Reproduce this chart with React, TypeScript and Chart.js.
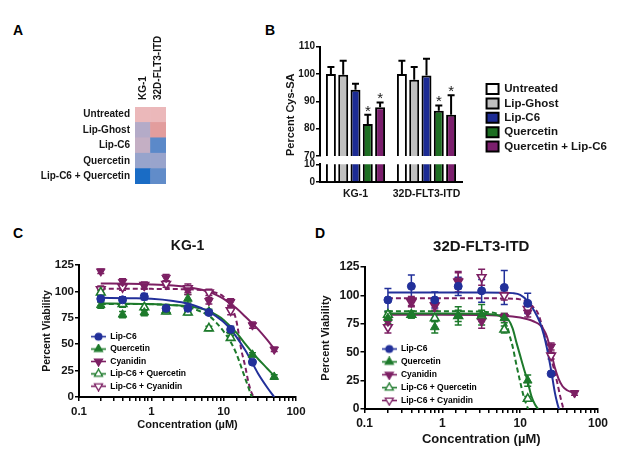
import React, { useEffect, useRef } from 'react';
import { Chart, registerables } from 'chart.js';

Chart.register(...registerables);

const FONT = "'Liberation Sans', Arial, Helvetica, sans-serif";
const INK = '#151515';

// ---------------- Panel A : heatmap ----------------
const heatRows = ['Untreated', 'Lip-Ghost', 'Lip-C6', 'Quercetin', 'Lip-C6 + Quercetin'];
const heatCols = ['KG-1', '32D-FLT3-ITD'];
const heatKG1 = [0.6, 0.0, 0.25, -0.3, -1.0];
const heat32D = [0.6, 1.0, -0.6, -0.28, -0.57];

// ---------------- Panel B : Cys-SA bars ----------------
const cysGroups = ['KG-1', '32D-FLT3-ITD'];
const cysNames = ['Untreated', 'Lip-Ghost', 'Lip-C6', 'Quercetin', 'Quercetin + Lip-C6'];
const cysUntreated = [100, 100];
const cysLipGhost = [99.7, 97.9];
const cysLipC6 = [94.2, 99.5];
const cysQuercetin = [81.7, 86.6];
const cysQuercetinLipC6 = [87.8, 85.1];
const cysUntreatedErr = [2.6, 4.9];
const cysLipGhostErr = [5.2, 4.7];
const cysLipC6Err = [2.2, 6.1];
const cysQuercetinErr = [3.4, 1.9];
const cysQuercetinLipC6Err = [1.8, 7.1];
const cysStarred = [false, false, false, true, true];

// ---------------- Panels C & D : dose response ----------------
const doseNames = ['Lip-C6', 'Quercetin', 'Cyanidin', 'Lip-C6 + Quercetin', 'Lip-C6 + Cyanidin'];
const doseTickLabels = ['0.1', '1', '10', '100'];
const conc = [0.2, 0.4, 0.8, 1.6, 3.2, 6.25, 12.5, 25, 50];

// KG-1
const kgLipC6 = [93, 92, 95, 84, 84, 80, 64, 33, null];
const kgQuercetin = [87, 78, 80, 82, 93, 81, 63, 40, 19];
const kgCyanidin = [119, 109, 105, 113, 101, 91, 90, 68, 45];
const kgLipC6Q = [99, 88, 85, 81, 80, 65, 56, null, null];
const kgLipC6Cy = [102, 104, 106, 107, 103, 99, 82, null, null];
const kgLipC6Err = [3, 3, 3, 2, 3, 2, 3, 2, 0];
const kgQuercetinErr = [3, 3, 3, 2, 4, 2, 3, 2, 2];
const kgCyanidinErr = [2, 3, 3, 3, 4, 3, 3, 3, 2];
const kgLipC6QErr = [2, 3, 3, 2, 2, 2, 2, 0, 0];
const kgLipC6CyErr = [3, 3, 3, 3, 4, 3, 4, 0, 0];
const kgFitLipC6 = [[0.2, 94], [0.5, 93.5], [1, 93], [2, 91], [3.2, 88.5], [5, 84], [6.25, 81], [8, 76], [10, 71], [12.5, 64], [15, 57], [20, 44], [25, 32], [30, 22], [40, 9], [50, 0]];
const kgFitQuercetin = [[0.2, 88.5], [0.5, 88.4], [1, 88], [2, 87], [3.2, 86], [5, 83.5], [6.25, 81.5], [8, 77.5], [10, 73], [12.5, 66.5], [15, 61], [20, 50], [25, 42], [30, 36], [40, 27], [50, 20]];
const kgFitCyanidin = [[0.2, 107.5], [0.5, 107.2], [1, 106.6], [2, 105.5], [3.2, 104], [5, 101.5], [6.25, 99.5], [8, 96.5], [10, 93], [12.5, 88], [15, 84], [20, 76], [25, 69.5], [30, 64], [40, 54], [50, 45.5]];
const kgFitLipC6Q = [[0.2, 88], [0.5, 88], [1, 87.8], [2, 87], [3.2, 85], [4, 83], [5, 80.5], [6.25, 77], [8, 70], [10, 62], [12.5, 52], [15, 41], [18, 26], [20, 17], [22, 9], [24.5, 0]];
const kgFitLipC6Cy = [[0.2, 102.5], [0.5, 102.5], [1, 102.4], [2, 102.2], [3.2, 102], [5, 101.2], [6.25, 100.5], [8, 98.5], [10, 95], [12.5, 87], [15, 72], [17.5, 45], [20, 28], [22, 14], [24, 5], [26, 0]];

// 32D-FLT3-ITD
const cdLipC6 = [96, 108, 96, 108, 104, 107, 93, 31, null];
const cdQuercetin = [80, 83, 72, 82, 83, 80, 25, null, null];
const cdCyanidin = [77, 95, 92, 113, 77, 81, 85, 55, 14];
const cdLipC6Q = [83, 83, 80, 82, 82, 70, 9, null, null];
const cdLipC6Cy = [72, 94, 91, 112, 116, 100, 88, 47, null];
const cdLipC6Err = [10, 10, 7, 8, 10, 15, 9, 0, 0];
const cdQuercetinErr = [5, 3, 5, 8, 9, 4, 5, 0, 0];
const cdCyanidinErr = [4, 4, 5, 7, 6, 3, 4, 3, 2];
const cdLipC6QErr = [3, 3, 3, 5, 5, 3, 2, 0, 0];
const cdLipC6CyErr = [5, 4, 5, 9, 7, 4, 3, 3, 0];
const cdFitLipC6 = [[0.2, 102.5], [1, 102.5], [3.2, 102.5], [6.25, 102.3], [8, 102], [10, 100.5], [12.5, 95], [15, 87], [18, 76], [20, 66], [22, 54], [25, 34], [28, 14], [30, 5], [31.5, 0]];
const cdFitQuercetin = [[0.2, 84], [1, 84], [3.2, 83.8], [5, 82.8], [6.25, 81], [7, 79], [8, 71], [9, 58], [10, 47], [11, 37], [12.5, 24], [14, 11], [15.5, 4], [17, 0]];
const cdFitCyanidin = [[0.2, 83], [1, 83], [3.2, 82.7], [5, 82.4], [8, 81.5], [10, 80.5], [12.5, 79], [15, 77], [18, 74], [20, 70], [22, 64], [25, 50], [28, 36], [31, 27], [35, 20], [40, 16.5], [50, 14]];
const cdFitLipC6Q = [[0.2, 86], [1, 86], [3.2, 85.8], [4, 85.2], [5, 84], [6, 79], [6.25, 77], [7, 70], [7.5, 62], [8, 55], [9, 38], [10, 24], [11, 12], [12, 4], [12.7, 0]];
const cdFitLipC6Cy = [[0.2, 97.5], [1, 97.5], [3.2, 97.5], [6.25, 97.3], [10, 96.5], [12.5, 94], [15, 89], [17, 84], [20, 68], [22, 57], [25, 44], [27, 36], [30, 23], [33, 10], [36, 0]];

// ---------------- styles ----------------
const BLUE = '#22309a';
const GREEN = '#1d7a2b';
const PURPLE = '#7c1f63';
const barFill = ['#ffffff', '#c0c0c0', '#1c2b94', '#1d6e22', '#7b1f6d'];
const seriesStyle = [
  { color: BLUE, shape: 'circle', open: false, dash: [] as number[] },
  { color: GREEN, shape: 'up', open: false, dash: [] as number[] },
  { color: PURPLE, shape: 'down', open: false, dash: [] as number[] },
  { color: GREEN, shape: 'up', open: true, dash: [5, 3] },
  { color: PURPLE, shape: 'down', open: true, dash: [5, 3] },
];
const heatStops: [number, string][] = [
  [-1, '#1a6cc5'], [-0.6, '#5b89c9'], [-0.3, '#97a4cc'], [0, '#b4abc8'],
  [0.25, '#c4afc4'], [0.6, '#ebb8ba'], [1, '#e29d9d'],
];

function hexRgb(h: string) {
  const n = parseInt(h.slice(1), 16);
  return [(n >> 16) & 255, (n >> 8) & 255, n & 255];
}
function heatColor(v: number) {
  for (let i = 0; i < heatStops.length - 1; i++) {
    const [a, ca] = heatStops[i];
    const [b, cb] = heatStops[i + 1];
    if (v <= b || i === heatStops.length - 2) {
      const t = Math.max(0, Math.min(1, (v - a) / (b - a)));
      const A = hexRgb(ca), B = hexRgb(cb);
      const c = A.map((x, k) => Math.round(x + (B[k] - x) * t));
      return `rgb(${c[0]},${c[1]},${c[2]})`;
    }
  }
  return heatStops[0][1];
}

function makeIcon(color: string, shape: string, open: boolean) {
  const c = document.createElement('canvas');
  c.width = 15; c.height = 11;
  const g = c.getContext('2d')!;
  g.strokeStyle = color; g.lineWidth = 1.6;
  g.beginPath(); g.moveTo(0, 5.5); g.lineTo(15, 5.5); g.stroke();
  g.fillStyle = open ? '#ffffff' : color;
  const cx = 7.5, cy = 5.5, r = 4.6;
  g.beginPath();
  if (shape === 'circle') g.arc(cx, cy, 3.4, 0, Math.PI * 2);
  else if (shape === 'up') { g.moveTo(cx, cy - r); g.lineTo(cx + r * 0.866, cy + r / 2); g.lineTo(cx - r * 0.866, cy + r / 2); g.closePath(); }
  else { g.moveTo(cx, cy + r); g.lineTo(cx + r * 0.866, cy - r / 2); g.lineTo(cx - r * 0.866, cy - r / 2); g.closePath(); }
  g.fill(); g.lineWidth = 1.3; g.stroke();
  return c;
}

const placeLegend = (x: number, y: number) => ({
  id: 'placeLegend',
  afterLayout(chart: any) {
    const l = chart.legend;
    if (!l) return;
    l.left = x; l.top = y; l.right = x + l.width; l.bottom = y + l.height;
  },
});

const pointErrorPlugin = {
  id: 'pointErrors',
  beforeDatasetsDraw(chart: any) {
    const { ctx } = chart;
    const xs = chart.scales.x, ys = chart.scales.y;
    chart.data.datasets.forEach((ds: any) => {
      if (!ds.errors) return;
      ctx.save();
      ctx.strokeStyle = ds.borderColor; ctx.lineWidth = 1.5;
      ds.data.forEach((p: any, i: number) => {
        const e = ds.errors[i];
        if (p.y == null || !e) return;
        const x = xs.getPixelForValue(p.x);
        const y1 = ys.getPixelForValue(p.y + e), y2 = ys.getPixelForValue(p.y - e);
        ctx.beginPath();
        ctx.moveTo(x, y1); ctx.lineTo(x, y2);
        ctx.moveTo(x - 3.5, y1); ctx.lineTo(x + 3.5, y1);
        ctx.moveTo(x - 3.5, y2); ctx.lineTo(x + 3.5, y2);
        ctx.stroke();
      });
      ctx.restore();
    });
  },
};

const barErrorPlugin = {
  id: 'barErrors',
  afterDatasetsDraw(chart: any) {
    const { ctx } = chart;
    const ys = chart.scales.y;
    chart.data.datasets.forEach((ds: any, di: number) => {
      const meta = chart.getDatasetMeta(di);
      meta.data.forEach((bar: any, j: number) => {
        const v = ds.data[j], e = ds.errors[j];
        const yTop = ys.getPixelForValue(v + e);
        ctx.save();
        ctx.strokeStyle = '#000'; ctx.lineWidth = 2;
        ctx.beginPath();
        ctx.moveTo(bar.x, bar.y); ctx.lineTo(bar.x, yTop);
        ctx.moveTo(bar.x - 3.5, yTop); ctx.lineTo(bar.x + 3.5, yTop);
        ctx.stroke();
        if (ds.starred) {
          ctx.fillStyle = '#222';
          ctx.font = `15px ${FONT}`;
          ctx.textAlign = 'center'; ctx.textBaseline = 'alphabetic';
          ctx.fillText('*', bar.x, yTop + 1);
        }
        ctx.restore();
      });
    });
  },
};

function heatConfig(): any {
  return {
    type: 'bar',
    data: {
      labels: heatCols,
      datasets: heatRows.map((r, ri) => ({
        label: r,
        data: [1, 1],
        backgroundColor: [heatColor(heatKG1[ri]), heatColor(heat32D[ri])],
        borderWidth: 0,
        barPercentage: 1,
        categoryPercentage: 1,
      })).reverse(),
    },
    options: {
      responsive: false, animation: false, events: [],
      layout: { padding: { left: 0, top: 0, right: 14, bottom: 5 } },
      plugins: { legend: { display: false }, tooltip: { enabled: false } },
      scales: {
        x: {
          stacked: true, position: 'top',
          afterFit: (s: any) => { s.height = 87; },
          grid: { display: false, drawTicks: false }, border: { display: false },
          ticks: { minRotation: 90, maxRotation: 90, padding: 7, labelOffset: 12, color: INK, font: { size: 10, weight: 'bold', family: FONT } },
        },
        y: {
          stacked: true, min: 0, max: 5,
          afterFit: (s: any) => { s.width = 135; },
          afterBuildTicks: (s: any) => { s.ticks = heatRows.map((_, i) => ({ value: i + 0.5 })); },
          grid: { display: false, drawTicks: false }, border: { display: false },
          ticks: {
            autoSkip: false, padding: 5, color: INK, font: { size: 10, weight: 'bold', family: FONT },
            callback: (v: any) => heatRows[heatRows.length - 1 - Math.floor(Number(v))],
          },
        },
      },
    },
  };
}

function cysDatasets(withErr: boolean, clip: any) {
  const vals = [cysUntreated, cysLipGhost, cysLipC6, cysQuercetin, cysQuercetinLipC6];
  const errs = [cysUntreatedErr, cysLipGhostErr, cysLipC6Err, cysQuercetinErr, cysQuercetinLipC6Err];
  return cysNames.map((n, i) => ({
    label: n,
    data: vals[i],
    errors: withErr ? errs[i] : undefined,
    starred: cysStarred[i],
    backgroundColor: barFill[i],
    borderColor: '#000',
    borderWidth: 2,
    barPercentage: 0.81,
    categoryPercentage: 0.866,
    clip,
  }));
}

const yAxisB = (min: number, max: number, extra: any = {}) => ({
  min, max,
  afterFit: (s: any) => { s.width = 40; },
  ticks: { stepSize: 10, padding: 1, color: INK, font: { size: 10, weight: 'bold', family: FONT } },
  grid: { drawOnChartArea: false, tickLength: 4, color: '#000', lineWidth: 1.5 },
  border: { color: '#000', width: 2 },
  ...extra,
});

function cysTopConfig(): any {
  return {
    type: 'bar',
    data: { labels: cysGroups, datasets: cysDatasets(true, { left: false, right: false, top: false, bottom: 0 }) },
    options: {
      responsive: false, animation: false, events: [],
      layout: { padding: { left: 0, top: 8.7, right: 158, bottom: 8 } },
      plugins: {
        tooltip: { enabled: false },
        legend: {
          position: 'chartArea', align: 'start',
          labels: { boxWidth: 12, boxHeight: 10, padding: 2.85, color: INK, font: { size: 11.5, weight: 'bold', family: FONT } },
        },
      },
      scales: {
        x: { display: false },
        y: yAxisB(70, 110, {
          title: { display: true, text: 'Percent Cys-SA', align: 'start', color: INK, font: { size: 11, weight: 'bold', family: FONT }, padding: { top: 4, bottom: 0 } },
        }),
      },
    },
    plugins: [barErrorPlugin, placeLegend(203.7, 42.5)],
  };
}

function cysBottomConfig(): any {
  return {
    type: 'bar',
    data: { labels: cysGroups, datasets: cysDatasets(false, { left: false, right: false, top: 0, bottom: false }) },
    options: {
      responsive: false, animation: false, events: [],
      layout: { padding: { left: 0, top: 14.3, right: 158, bottom: 0 } },
      plugins: { tooltip: { enabled: false }, legend: { display: false } },
      scales: {
        x: {
          afterFit: (s: any) => { s.height = 20; },
          grid: { display: false, drawTicks: false },
          border: { display: true, color: '#000', width: 2 },
          ticks: { padding: 6, maxRotation: 0, color: INK, font: { size: 10.5, weight: 'bold', family: FONT } },
        },
        y: yAxisB(0, 10),
      },
    },
  };
}

function doseConfig(p: any): any {
  const markerSets = p.markers.map((vals: any[], i: number) => {
    const st = seriesStyle[i];
    return {
      type: 'line',
      label: doseNames[i],
      data: conc.map((x, k) => ({ x, y: vals[k] })),
      errors: p.errors[i],
      showLine: false,
      pointStyle: st.shape === 'circle' ? 'circle' : 'triangle',
      pointRotation: st.shape === 'down' ? 180 : 0,
      pointRadius: st.shape === 'circle' ? 4 : 5,
      pointBackgroundColor: st.open ? '#ffffff' : st.color,
      pointBorderColor: st.color,
      pointBorderWidth: st.open ? 1.6 : 1,
      borderColor: st.color,
      backgroundColor: st.color,
      clip: false,
    };
  });
  const fitSets = p.fits.map((pts: number[][], i: number) => {
    const st = seriesStyle[i];
    return {
      type: 'line',
      label: doseNames[i] + ' fit',
      data: pts.map(([x, y]) => ({ x, y })),
      borderColor: st.color,
      borderWidth: 2,
      borderDash: st.dash,
      pointRadius: 0,
      fill: false,
      cubicInterpolationMode: 'monotone',
      clip: { left: false, right: false, top: false, bottom: 0 },
    };
  });
  const icons = seriesStyle.map((s) => makeIcon(s.color, s.shape, s.open));
  const tickFont = { size: p.tickSize, weight: 'bold', family: FONT };
  return {
    type: 'line',
    data: { datasets: [...markerSets, ...fitSets] },
    options: {
      responsive: false, animation: false, events: [],
      layout: { padding: { left: 0, top: 0, right: p.padRight, bottom: 0 } },
      plugins: {
        tooltip: { enabled: false },
        title: {
          display: true, text: p.title, fullSize: false, color: INK,
          font: { size: p.titleSize, weight: 'bold', family: FONT }, padding: p.titlePad,
        },
        legend: {
          position: 'chartArea', align: 'start',
          labels: {
            usePointStyle: true, pointStyleWidth: 15, boxHeight: 9, padding: p.legendPad,
            color: '#222', font: { size: 8.5, weight: 'bold', family: FONT },
            generateLabels: () => doseNames.map((n, i) => ({
              text: n, pointStyle: icons[i], rotation: 0, fillStyle: 'transparent',
              strokeStyle: 'transparent', lineWidth: 0, hidden: false, datasetIndex: i,
            })),
          },
        },
      },
      scales: {
        x: {
          type: 'logarithmic', min: 0.1, max: 100,
          afterFit: (s: any) => { s.height = p.xH; },
          grid: { drawOnChartArea: false, tickLength: 4, color: '#000', lineWidth: 1.5 },
          border: { color: '#000', width: 2 },
          ticks: {
            autoSkip: false, maxRotation: 0, padding: p.xTickPad, color: INK, font: tickFont,
            callback: (v: any) => {
              const l = Math.log10(Number(v));
              return Math.abs(l - Math.round(l)) < 1e-6 ? doseTickLabels[Math.round(l) + 1] : '';
            },
          },
          title: {
            display: true, text: 'Concentration (µM)', color: INK,
            font: { size: p.xTitleSize, weight: 'bold', family: FONT }, padding: { top: 0, bottom: p.xTitlePad },
          },
        },
        y: {
          min: 0, max: 125,
          afterFit: (s: any) => { s.width = p.yW; },
          grid: { drawOnChartArea: false, tickLength: 4, color: '#000', lineWidth: 1.5 },
          border: { color: '#000', width: 2 },
          ticks: { stepSize: 25, padding: 1, color: INK, font: tickFont },
          title: {
            display: true, text: 'Percent Viability', color: INK,
            font: { size: p.yTitleSize, weight: 'bold', family: FONT }, padding: { top: p.yTitlePad, bottom: 0 },
          },
        },
      },
    },
    plugins: [pointErrorPlugin, placeLegend(p.legendLeft, p.legendTop)],
  };
}

const panelLetter = (t: string, left: number, top: number) => (
  <div key={t} style={{ position: 'absolute', left, top, font: `bold 14px ${FONT}`, lineHeight: '14px', color: '#000' }}>{t}</div>
);

export default function App() {
  const aRef = useRef<HTMLCanvasElement>(null);
  const bTopRef = useRef<HTMLCanvasElement>(null);
  const bBotRef = useRef<HTMLCanvasElement>(null);
  const cRef = useRef<HTMLCanvasElement>(null);
  const dRef = useRef<HTMLCanvasElement>(null);

  useEffect(() => {
    Chart.defaults.font.family = FONT;
    const charts: Chart[] = [];
    charts.push(new Chart(aRef.current!, heatConfig()));
    charts.push(new Chart(bTopRef.current!, cysTopConfig()));
    charts.push(new Chart(bBotRef.current!, cysBottomConfig()));
    charts.push(new Chart(cRef.current!, doseConfig({
      title: 'KG-1', titleSize: 14, titlePad: { top: 2.2, bottom: 10 },
      tickSize: 11.5, yTitleSize: 10.5, yTitlePad: 20.4, xTitleSize: 11, xTitlePad: 10.9,
      yW: 59, xH: 45, padRight: 14, xTickPad: 4,
      legendLeft: 67.1, legendTop: 92.5, legendPad: 3.9,
      markers: [kgLipC6, kgQuercetin, kgCyanidin, kgLipC6Q, kgLipC6Cy],
      errors: [kgLipC6Err, kgQuercetinErr, kgCyanidinErr, kgLipC6QErr, kgLipC6CyErr],
      fits: [kgFitLipC6, kgFitQuercetin, kgFitCyanidin, kgFitLipC6Q, kgFitLipC6Cy],
    })));
    charts.push(new Chart(dRef.current!, doseConfig({
      title: '32D-FLT3-ITD', titleSize: 15, titlePad: { top: 1.7, bottom: 11.3 },
      tickSize: 12, yTitleSize: 11, yTitlePad: 9.4, xTitleSize: 13, xTitlePad: 2.2,
      yW: 54.5, xH: 40, padRight: 22, xTickPad: 3.5,
      legendLeft: 67.3, legendTop: 104.3, legendPad: 4.4,
      markers: [cdLipC6, cdQuercetin, cdCyanidin, cdLipC6Q, cdLipC6Cy],
      errors: [cdLipC6Err, cdQuercetinErr, cdCyanidinErr, cdLipC6QErr, cdLipC6CyErr],
      fits: [cdFitLipC6, cdFitQuercetin, cdFitCyanidin, cdFitLipC6Q, cdFitLipC6Cy],
    })));
    return () => charts.forEach((c) => c.destroy());
  }, []);

  const abs = (left: number, top: number) => ({ position: 'absolute' as const, left, top });
  return (
    <div style={{ position: 'absolute', left: 0, top: 0, width: 628, height: 450, background: '#fff', overflow: 'hidden' }}>
      {panelLetter('A', 13, 23)}
      {panelLetter('B', 265, 23)}
      {panelLetter('C', 13, 226)}
      {panelLetter('D', 315, 226)}
      <canvas ref={aRef} width={180} height={175} style={abs(0, 20)} />
      <canvas ref={bTopRef} width={340} height={126} style={abs(280, 38)} />
      <canvas ref={bBotRef} width={340} height={52} style={abs(280, 150)} />
      <canvas ref={cRef} width={290} height={206} style={abs(20, 236)} />
      <canvas ref={dRef} width={310} height={213} style={abs(310, 236)} />
    </div>
  );
}
